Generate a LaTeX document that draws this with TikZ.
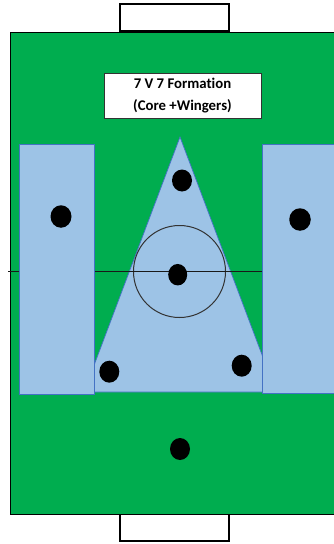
\documentclass[tikz,border=0pt]{standalone}
\usepackage{fontspec}
\setmainfont{Carlito}[Ligatures=NoCommon]
\usetikzlibrary{shapes.geometric}
\definecolor{pitch}{HTML}{00AD4F}
\definecolor{zone}{HTML}{9DC3E6}
\definecolor{zoneline}{HTML}{4472C4}
\tikzset{
  goalbox/.style={draw=black, line width=1.4pt, fill=white},
  zonebox/.style={draw=zoneline, line width=0.7pt, fill=zone},
  player/.style={ellipse, fill=black, inner sep=0pt, minimum width=20pt, minimum height=22pt},
  titlebox/.style={draw=black!80, line width=0.6pt, fill=white, minimum width=157pt, minimum height=45pt, align=center, font=\fontsize{14.8}{22}\selectfont\bfseries, inner sep=0pt}
}
\begin{document}
\begin{tikzpicture}[x=1pt, y=-1pt]
\useasboundingbox (0,0) rectangle (334,544);
\clip (0,0) rectangle (334,544);
% goals
\draw[goalbox] (120,4) rectangle (229,31);
\draw[goalbox] (120,514) rectangle (229,541);
% field
\draw[fill=pitch, draw=black, line width=1pt] (10,32) rectangle (345,514);
% title
\node[titlebox] (title) at (182.5,95.5) {7 V 7 Formation\\(Core +Wingers)};
% core triangle
\draw[zonebox] (180,137) -- (276,392) -- (84,392) -- cycle;
% centre circle and halfway line
\draw[black!80, line width=1pt] (179.5,271.5) circle[radius=46];
\coordinate (hl) at (8,271.5);
\coordinate (hr) at (262,271.5);
\draw[black!90, line width=1.1pt] (hl) -- (hr);
% wingers
\draw[zonebox] (19,144) rectangle (94,394);
\draw[zonebox] (262,144) rectangle (345,393);
% players
\node[player] (top) at (182,180.5) {};
\node[player, minimum width=21pt, minimum height=22.5pt] (lw) at (61,216.5) {};
\node[player, minimum width=21.5pt, minimum height=22.5pt] (rw) at (300,219.5) {};
\node[player, minimum width=19pt, minimum height=21.5pt] (cm) at (177.7,274.7) {};
\node[player] (lb) at (109.3,371.7) {};
\node[player] (rb) at (241.7,365.7) {};
\node[player] (gk) at (180,449) {};
\end{tikzpicture}
\end{document}
